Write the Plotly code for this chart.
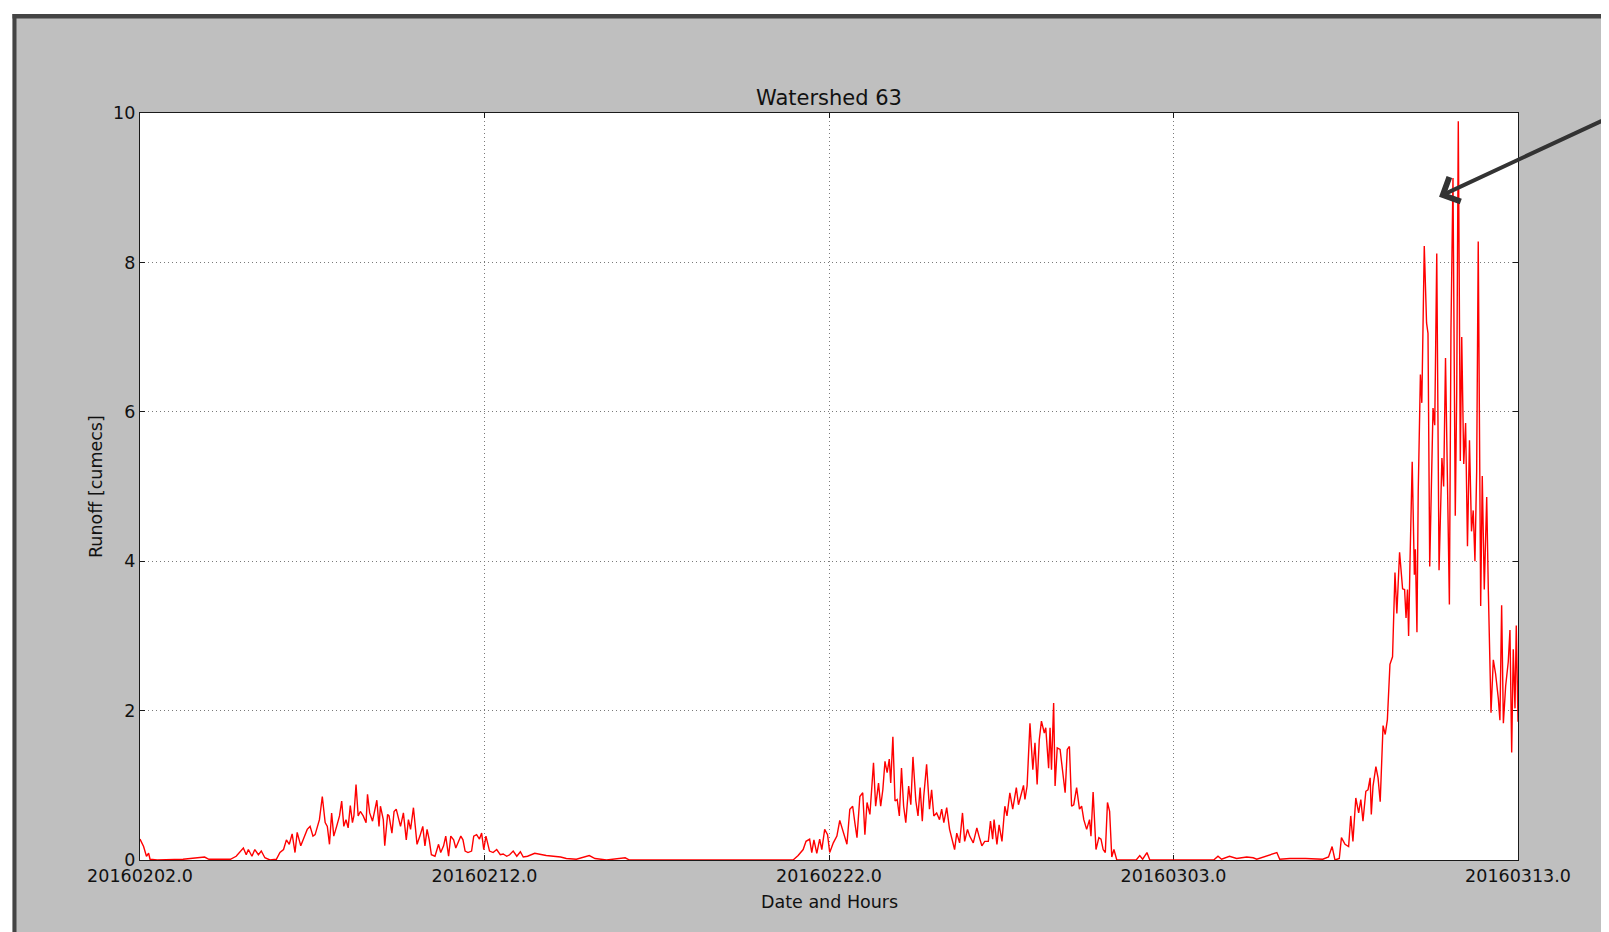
import plotly.graph_objects as go

# ---- data: hours since 2016-02-02 00:00, runoff [cumecs] ----
feb_early = [
    (0, 0.28), (1.5, 0.22), (2.5, 0.18), (4.5, 0.05), (6, 0.09), (7, 0.01), (12, 0.0), (30, 0.01),
    (45, 0.04), (48, 0.01), (63, 0.01), (67, 0.05), (72, 0.16), (74, 0.07), (75.5, 0.14), (78, 0.05),
    (80, 0.14), (82.5, 0.07), (84.5, 0.12), (87, 0.03), (90.5, 0.0), (95, 0.01), (97.5, 0.10),
    (100, 0.14), (102, 0.27), (104, 0.21), (106, 0.35), (108, 0.10), (109.5, 0.37), (112, 0.19),
    (114, 0.30), (116.5, 0.41), (118.5, 0.45), (120.5, 0.32), (122, 0.34), (123.5, 0.43), (125, 0.54),
    (127, 0.85), (129, 0.50), (130.5, 0.45), (132, 0.21), (133.5, 0.63), (135, 0.32), (137, 0.45),
    (139, 0.59), (140.5, 0.79), (142, 0.45), (143.5, 0.54), (145, 0.43), (146.5, 0.73), (148, 0.50),
    (149, 0.59), (150.5, 1.01), (152, 0.59), (153.5, 0.65), (155.5, 0.59), (157.5, 0.50), (158.5, 0.88),
    (160, 0.63), (162, 0.52), (163.5, 0.65), (165, 0.80), (166.5, 0.45), (167.5, 0.72), (169.5, 0.54),
    (170.5, 0.19), (172.5, 0.61), (173.5, 0.59), (175.5, 0.36), (177, 0.65), (178.5, 0.68), (180, 0.54),
    (181.5, 0.45), (183.5, 0.63), (185.5, 0.27), (187, 0.54), (188.5, 0.41), (190.5, 0.70), (192, 0.41),
    (193, 0.21), (195, 0.32), (197, 0.45), (198.5, 0.19), (200, 0.41), (201.5, 0.27), (203, 0.07),
    (205.5, 0.05), (208, 0.21), (209.5, 0.10), (211.5, 0.19), (213, 0.32), (215, 0.05), (216.5, 0.32),
    (218.5, 0.27), (220, 0.16), (221.5, 0.23), (223.5, 0.32), (225, 0.27), (226.5, 0.12), (228.5, 0.10),
    (231, 0.12), (232.5, 0.32), (234.5, 0.34), (236.5, 0.28), (238, 0.36), (239.5, 0.14), (241, 0.32),
    (243.5, 0.12), (246, 0.10), (248.5, 0.14), (251, 0.07), (253, 0.08), (255.5, 0.05), (257.5, 0.07),
    (260, 0.12), (262.5, 0.05), (265, 0.11), (267, 0.04), (270, 0.05), (275, 0.09), (279, 0.07),
    (283, 0.06), (288, 0.05), (293, 0.04), (297, 0.02), (304, 0.01), (313, 0.06), (317, 0.02),
    (325, 0.0), (338, 0.03), (341, 0.0),
]

feb_late = [
    (455, 0.0), (458.5, 0.06), (462, 0.14), (464, 0.25), (466.5, 0.28), (468, 0.10), (469.5, 0.27),
    (471.5, 0.09), (473.5, 0.28), (475, 0.14), (477, 0.41), (479, 0.34), (480.5, 0.10), (483, 0.23),
    (485.5, 0.32), (487.5, 0.53), (490, 0.36), (492.5, 0.21), (494.5, 0.68), (496.5, 0.72), (498, 0.50),
    (499.5, 0.30), (501.5, 0.85), (503.5, 0.90), (505, 0.34), (506.5, 0.77), (508.5, 0.61), (511, 1.30),
    (512.5, 0.72), (514.5, 1.03), (516, 0.72), (517.5, 0.94), (519, 1.32), (520.5, 1.17), (522, 1.35),
    (523, 1.03), (524.5, 1.65), (526, 0.79), (527.5, 0.81), (529, 0.59), (530.5, 1.23), (532, 0.72),
    (533.5, 0.50), (535.5, 0.99), (537, 0.74), (538.5, 1.38), (540.5, 0.79), (542, 0.59), (543.5, 0.97),
    (545, 0.52), (546, 0.85), (548, 1.28), (550, 0.68), (551.5, 0.94), (553, 0.59), (555, 0.63),
    (557, 0.54), (558.5, 0.68), (560, 0.50), (562, 0.70), (564, 0.41), (565.5, 0.28), (567.5, 0.14),
    (569, 0.36), (571, 0.23), (573, 0.63), (574.5, 0.25), (576.5, 0.41), (578, 0.32), (580.5, 0.23),
    (583, 0.43), (584.5, 0.32), (586.5, 0.19), (588.5, 0.25), (591, 0.25), (592.5, 0.52), (594, 0.28),
    (595, 0.54), (597, 0.21), (598.5, 0.47), (600.5, 0.25), (602.5, 0.72), (604, 0.59), (606, 0.90),
    (608, 0.68), (610.5, 0.97), (612, 0.74), (613.5, 0.85), (615.5, 1.00), (616.5, 0.81), (618, 0.99),
    (620, 1.83), (622, 1.21), (623.5, 1.57), (625, 1.01), (626.5, 1.61), (628, 1.86), (630, 1.70),
    (631, 1.77), (633, 1.23), (634, 1.77), (635, 1.21), (636.5, 2.10), (637.5, 0.99), (639, 1.50),
    (641, 1.48), (643, 1.12), (644.5, 0.90), (646, 1.48), (647.5, 1.52), (649, 0.72), (650.5, 0.74),
    (652.5, 0.97), (654.5, 0.68), (656, 0.72), (657.5, 0.54), (659.5, 0.41), (661.5, 0.54), (662.5, 0.32),
    (664, 0.91), (666, 0.14), (668, 0.30), (669.5, 0.28), (671, 0.14), (672.5, 0.10), (674, 0.77),
    (675.5, 0.65), (677, 0.04), (678.5, 0.14), (680.5, 0.0),
]

march = [
    (694, 0.0), (696.5, 0.06), (698.5, 0.01), (701.5, 0.10), (703.5, 0.0), (748, 0.0), (751, 0.05),
    (753.5, 0.01), (759, 0.05), (764, 0.02), (771, 0.04), (775.5, 0.03), (778, 0.01), (792, 0.10),
    (794, 0.01), (801, 0.02), (812, 0.02), (824, 0.01), (828, 0.04), (830.5, 0.18), (832.5, 0.0),
    (835.5, 0.02), (837, 0.30), (839.5, 0.21), (842, 0.18), (843.5, 0.59), (845, 0.25), (847, 0.83),
    (849, 0.63), (850.5, 0.81), (852, 0.52), (854, 0.92), (855.5, 0.94), (857, 1.10), (857.8, 0.61),
    (859, 0.99), (861, 1.25), (862.5, 1.10), (864, 0.78), (866, 1.80), (867.5, 1.68), (869, 1.88),
    (870.8, 2.62), (872.6, 2.72), (874.3, 3.85), (875.6, 3.30), (877.5, 4.12), (879.6, 3.63),
    (881, 3.62), (882, 3.24), (883, 3.62), (883.8, 3.0), (884.8, 4.03), (886.3, 5.33), (887.8, 3.82),
    (888.5, 4.16), (889.6, 3.05), (890.5, 4.94), (892, 6.50), (893, 6.12), (894.7, 8.22), (896.3, 7.19),
    (897.3, 7.05), (898.5, 3.93), (900.8, 6.05), (902, 5.82), (903.4, 8.12), (905, 3.88), (907, 5.38),
    (908.2, 5.0), (909.5, 6.72), (911, 4.94), (912.2, 3.42), (913.3, 7.10), (914.7, 9.13), (916.3, 4.61),
    (917.3, 6.25), (918.4, 9.89), (919.8, 5.34), (920.8, 7.0), (922.2, 5.3), (923.5, 5.85), (924.8, 4.2),
    (926.2, 5.62), (927.6, 4.4), (928.8, 4.68), (930, 4.0), (931.2, 5.2), (932.3, 8.28), (934, 3.40),
    (935.1, 5.14), (936.5, 3.62), (938.2, 4.86), (939.3, 3.63), (941.2, 1.97), (942.8, 2.68),
    (944.4, 2.49), (946.3, 2.16), (947.4, 1.87), (948.6, 3.41), (949.8, 1.83), (951.4, 2.33),
    (953.2, 2.65), (954.4, 3.08), (955.6, 1.44), (956.7, 2.82), (957.9, 2.03), (958.8, 3.14), (960, 1.85),
]

x_tick_hours = [0, 240, 480, 720, 960]
x_tick_labels = ["20160202.0", "20160212.0", "20160222.0", "20160303.0", "20160313.0"]
y_ticks = [0, 2, 4, 6, 8, 10]

title_text = "Watershed 63"
x_title = "Date and Hours"
y_title = "Runoff [cumecs]"

# arrow annotation target (data coords)
arrow_x, arrow_y = 905, 8.88

# ---- build ----
series = feb_early + feb_late + march
hours = [p[0] for p in series]
runoff = [p[1] for p in series]

# page layout in window pixels; the page body adds an 8px offset
OFF = 8
W_FIG, H_FIG = 1609, 932
PLOT_L, PLOT_R, PLOT_T, PLOT_B = 140, 1518, 113, 860
L = PLOT_L - OFF
T = PLOT_T - OFF
R = W_FIG - (PLOT_R - OFF)
B = H_FIG - (PLOT_B - OFF)
PW, PH = W_FIG - L - R, H_FIG - T - B


def px2x(px):
    # px: window pixel -> paper x
    return (px - PLOT_L) / PW


def py2y(py):
    return (PLOT_B - py) / PH


FONT = "DejaVu Sans"

fig = go.Figure()
fig.add_trace(go.Scatter(x=hours, y=runoff, mode="lines",
                         line=dict(color="#ff0000", width=1.4), showlegend=False,
                         hoverinfo="skip"))

axis_common = dict(
    showline=True, linecolor="#1a1a1a", linewidth=1.2, mirror="ticks",
    ticks="inside", ticklen=5, tickwidth=1, tickcolor="#1a1a1a",
    showgrid=True, gridcolor="#7a7a7a", griddash="1px,3px", gridwidth=1,
    zeroline=False, tickfont=dict(family=FONT, size=17.5, color="#111111"),
    layer="below traces",
)

fig.update_xaxes(range=[0, 960], tickvals=x_tick_hours, ticktext=x_tick_labels, **axis_common)
fig.update_yaxes(range=[0, 10], tickvals=y_ticks, ticktext=[str(v) for v in y_ticks], **axis_common)

shapes = [
    # white strips outside the outer frame
    dict(type="rect", xref="paper", yref="paper", x0=px2x(-40), x1=px2x(12.5),
         y0=py2y(1100), y1=py2y(-40), fillcolor="white", line=dict(width=0), layer="above"),
    dict(type="rect", xref="paper", yref="paper", x0=px2x(-40), x1=px2x(1700),
         y0=py2y(14), y1=py2y(-40), fillcolor="white", line=dict(width=0), layer="above"),
    # dark frame lines
    dict(type="rect", xref="paper", yref="paper", x0=px2x(12.5), x1=px2x(16.5),
         y0=py2y(1100), y1=py2y(14), fillcolor="#444444", line=dict(width=0), layer="above"),
    dict(type="rect", xref="paper", yref="paper", x0=px2x(12.5), x1=px2x(1700),
         y0=py2y(18.5), y1=py2y(14), fillcolor="#444444", line=dict(width=0), layer="above"),
]

annotations = [
    dict(text=title_text, xref="paper", yref="paper", x=0.5, y=py2y(98), xanchor="center",
         yanchor="middle", showarrow=False, font=dict(family=FONT, size=21, color="#111111")),
    dict(text=x_title, xref="paper", yref="paper", x=0.5, y=py2y(902), xanchor="center",
         yanchor="middle", showarrow=False, font=dict(family=FONT, size=17.5, color="#111111")),
    dict(text=y_title, xref="paper", yref="paper", x=px2x(95.5), y=0.5, xanchor="center",
         yanchor="middle", textangle=-90, showarrow=False,
         font=dict(family=FONT, size=17.5, color="#111111")),
    dict(text="", x=arrow_x, y=arrow_y, xref="x", yref="y", ax=176, ay=-82,
         showarrow=True, arrowhead=4, arrowsize=1.3, arrowwidth=4, arrowcolor="#333333",
         standoff=0),
]

fig.update_layout(
    width=W_FIG, height=H_FIG,
    margin=dict(l=L, r=R, t=T, b=B, pad=0, autoexpand=False),
    paper_bgcolor="#bfbfbf", plot_bgcolor="white",
    font=dict(family=FONT, size=17.5, color="#111111"),
    shapes=shapes, annotations=annotations, showlegend=False,
)

fig.write_html("out.html")
